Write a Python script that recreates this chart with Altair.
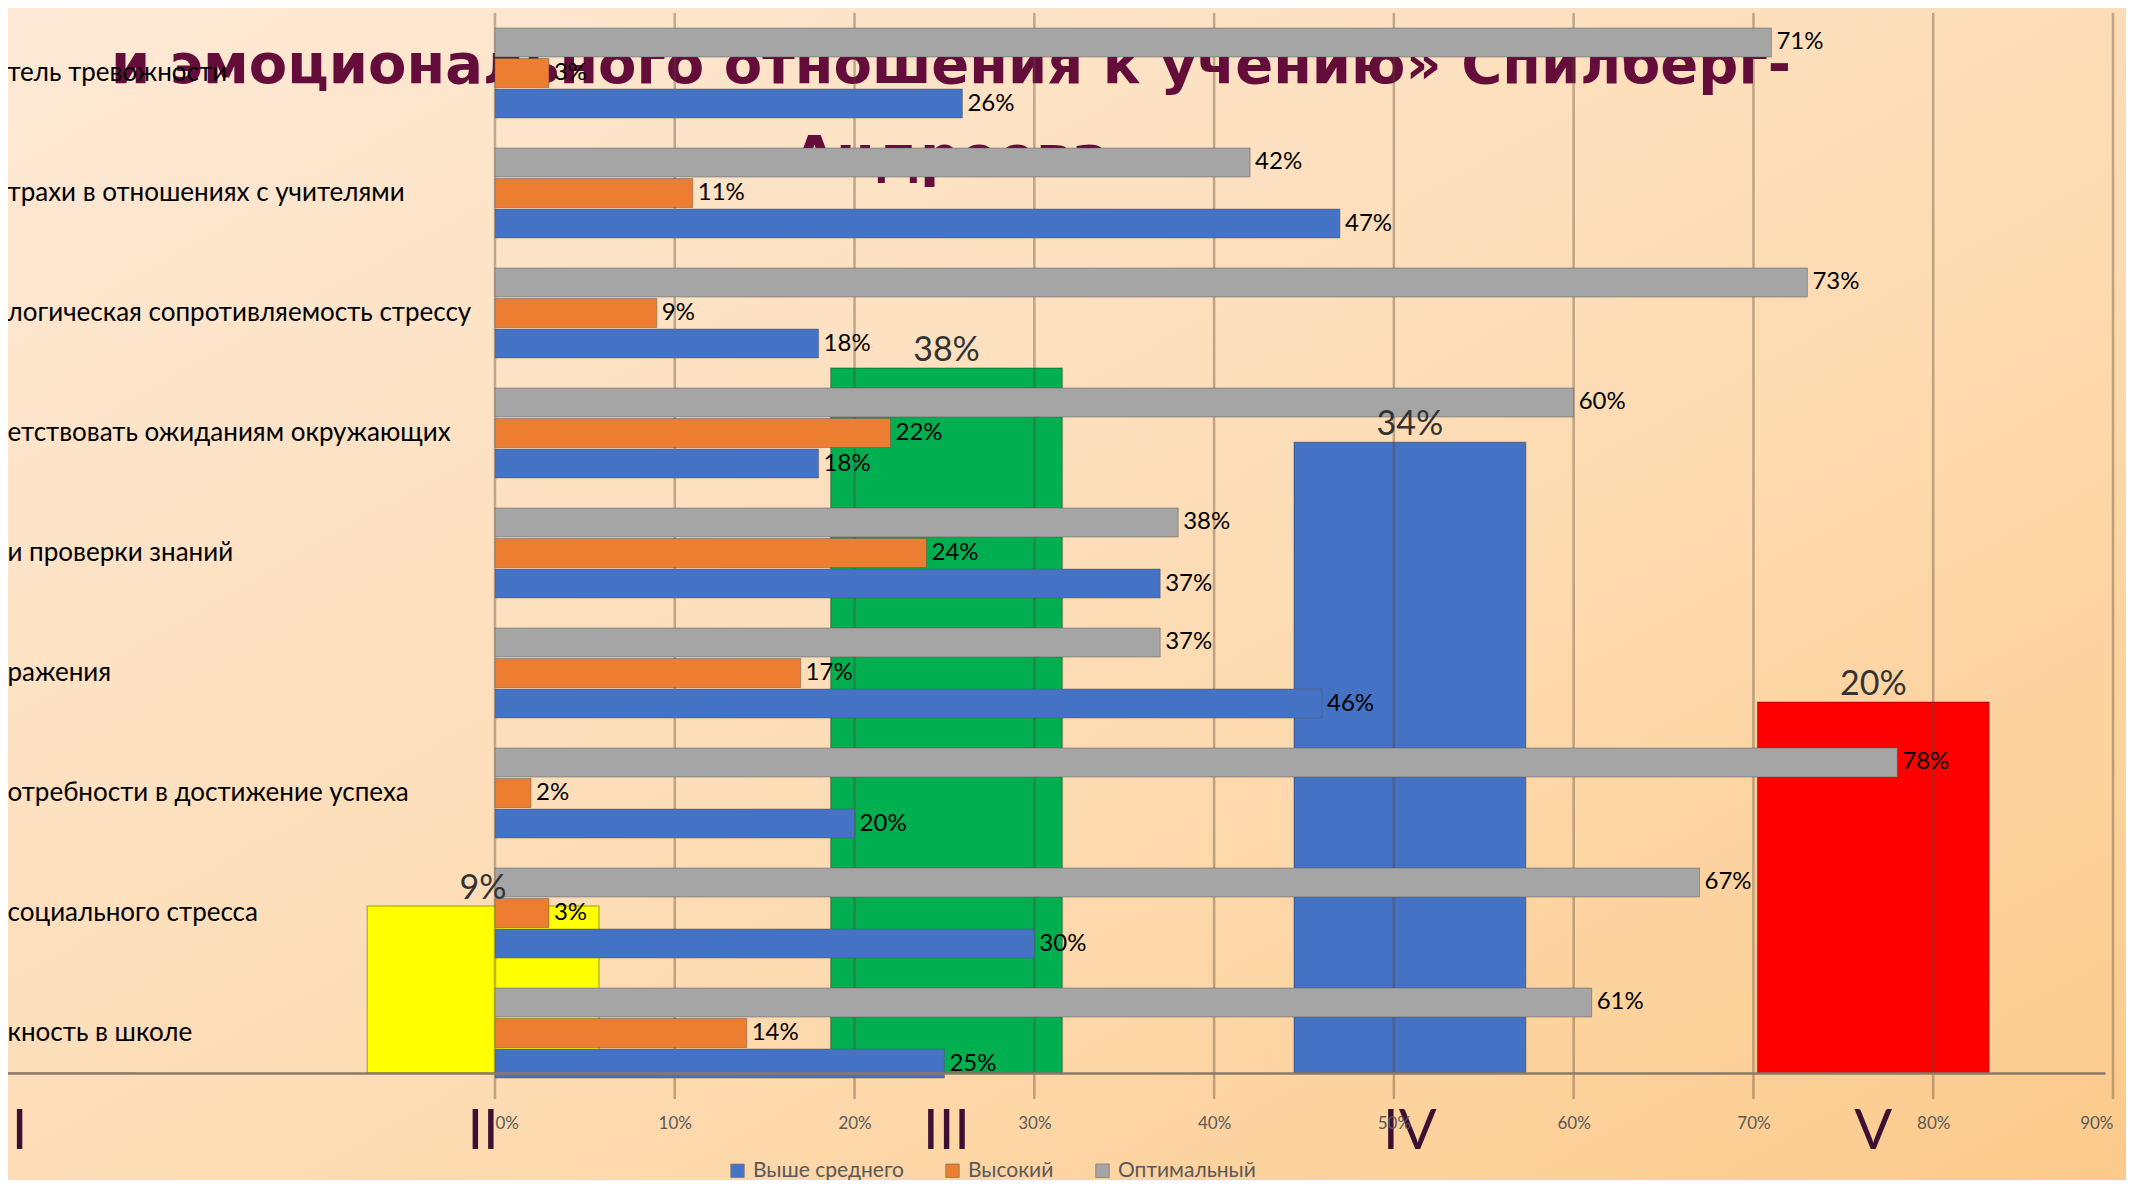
import altair as alt
import pandas as pd

# ---------------- data ----------------
CATEGORIES = [
    "тель тревожности",
    "трахи в отношениях с учителями",
    "логическая сопротивляемость стрессу",
    "етствовать ожиданиям окружающих",
    "и проверки знаний",
    "ражения",
    "отребности в достижение успеха",
    "социального стресса",
    "кность в школе",
]
SERIES = ["Выше среднего", "Высокий", "Оптимальный"]
ABOVE_AVG = [26, 47, 18, 18, 37, 46, 20, 30, 25]
HIGH = [3, 11, 9, 22, 24, 17, 2, 3, 14]
OPTIMAL = [71, 42, 73, 60, 38, 37, 78, 67, 61]
X_TICKS = [0, 10, 20, 30, 40, 50, 60, 70, 80, 90]

LEVELS = ["I", "II", "III", "IV", "V"]
LEVEL_VALUES = [0, 9, 38, 34, 20]

TITLE_LINES = ["и эмоционального отношения к учению» Спилберг-", "Андреева"]

# ---------------- styles ----------------
SERIES_COLORS = ["#4472c4", "#ed7d31", "#a5a5a5"]
LEVEL_COLORS = ["#ffff00", "#ffff00", "#00b050", "#4472c4", "#ff0000"]
FONT = "Lato"
W, H = 1618, 1080

rows = []
for i, c in enumerate(CATEGORIES):
    for s, vals in zip(SERIES, [ABOVE_AVG, HIGH, OPTIMAL]):
        rows.append({"cat": c, "series": s, "value": vals[i], "label": f"{vals[i]}%"})
bars_df = pd.DataFrame(rows)
levels_df = pd.DataFrame({"level": LEVELS, "value": LEVEL_VALUES,
                          "label": [f"{v}%" if v > 0 else "" for v in LEVEL_VALUES]})
ticks_df = pd.DataFrame({"tick": X_TICKS})
one = pd.DataFrame({"a": [0]})

# background gradient
bg = alt.Chart(one).mark_rect(
    fill=alt.Gradient(
        gradient="linear", x1=0, y1=0, x2=1, y2=1,
        stops=[alt.GradientStop(color="#fde9d6", offset=0),
               alt.GradientStop(color="#fddcb4", offset=0.55),
               alt.GradientStop(color="#fcca8a", offset=1)]),
).encode(x=alt.value(-500), x2=alt.value(W + 40), y=alt.value(-20), y2=alt.value(H + 100))

title = alt.Chart(one).mark_text(
    font="DejaVu Sans", fontWeight="bold", fontSize=56, color="#640d3a",
    align="center", baseline="alphabetic", lineHeight=92,
).encode(x=alt.value(456), y=alt.value(70), text=alt.value(TITLE_LINES))

# background columns chart
col_scale_x = alt.Scale(domain=LEVELS, range=[-707, 1610], paddingInner=0.5, paddingOuter=0.25)
col_scale_y = alt.Scale(domain=[0, 57.14], range=[1060, 0])
columns = alt.Chart(levels_df).mark_bar(stroke="#000000", strokeOpacity=0.25, strokeWidth=1.5).encode(
    x=alt.X("level:N", sort=LEVELS, scale=col_scale_x,
            axis=alt.Axis(orient="bottom", offset=-20, title=None, ticks=False, grid=False,
                          domain=True, domainColor="#8c7a66", domainWidth=2.5, zindex=1,
                          labelFont=FONT, labelFontSize=56, labelColor="#3c1032",
                          labelPadding=31, labelAngle=0)),
    y=alt.Y("value:Q", scale=col_scale_y, axis=None),
    fill=alt.Fill("level:N", scale=alt.Scale(domain=LEVELS, range=LEVEL_COLORS), legend=None),
)
col_labels = alt.Chart(levels_df).mark_text(
    font=FONT, fontSize=34, color="#333333", dy=-17, baseline="middle", align="center"
).encode(
    x=alt.X("level:N", sort=LEVELS, scale=col_scale_x, axis=None),
    y=alt.Y("value:Q", scale=col_scale_y, axis=None),
    text="label:N",
)

# main bar chart
bx_scale = alt.Scale(domain=[0, 90], nice=False)
by = alt.Y("cat:N", sort=CATEGORIES,
           scale=alt.Scale(domain=CATEGORIES, paddingInner=0.25, paddingOuter=0.125),
           axis=alt.Axis(title=None, ticks=False, domain=False, grid=False, labelFont=FONT, zindex=1,
                         labelFontSize=26, labelColor="#000000", labelAlign="left",
                         labelPadding=488, labelLimit=1200))
byo = alt.YOffset("series:N", sort=["Оптимальный", "Высокий", "Выше среднего"],
                  scale=alt.Scale(paddingInner=0.05))

grid = alt.Chart(ticks_df).mark_rule(color="#5a4630", opacity=0.38, strokeWidth=2.5).encode(
    x=alt.X("tick:Q", scale=bx_scale, axis=alt.Axis(
        orient="bottom", values=X_TICKS, labelExpr="datum.value + '%'", title=None, ticks=False,
        domain=False, grid=False, labelFont=FONT, labelFontSize=17, labelColor="#595959",
        labelPadding=22, zindex=1)),
    y=alt.value(0), y2=alt.value(H + 6),
)
bars = alt.Chart(bars_df).mark_bar(stroke="#555555", strokeOpacity=0.45, strokeWidth=1).encode(
    x=alt.X("value:Q", scale=bx_scale),
    y=by, yOffset=byo,
    color=alt.Color("series:N", scale=alt.Scale(domain=SERIES, range=SERIES_COLORS),
                    legend=alt.Legend(title=None, orient="none", legendX=232, legendY=1147,
                                      direction="horizontal", symbolType="square", symbolSize=180,
                                      symbolStrokeColor="#777777", symbolStrokeWidth=0.8,
                                      labelFont=FONT, labelFontSize=21, labelColor="#595959",
                                      labelOffset=5, columnPadding=38, zindex=1)),
)
labels = alt.Chart(bars_df).mark_text(
    font=FONT, fontSize=24, color="#000000", align="left", baseline="middle", dx=5
).encode(x=alt.X("value:Q", scale=bx_scale), y=by, yOffset=byo, text="label:N")
bar_layer = alt.layer(grid, bars, labels)

chart = alt.layer(bg, title, columns, bar_layer, col_labels).resolve_scale(
    x="independent", y="independent", color="independent"
).properties(
    width=W, height=H,
    padding={"left": 487, "top": 5, "right": 13, "bottom": 87},
    autosize=alt.AutoSizeParams(type="none"),
).configure_view(stroke=None)

chart.save("out.html", embed_options={"renderer": "svg", "actions": False})
